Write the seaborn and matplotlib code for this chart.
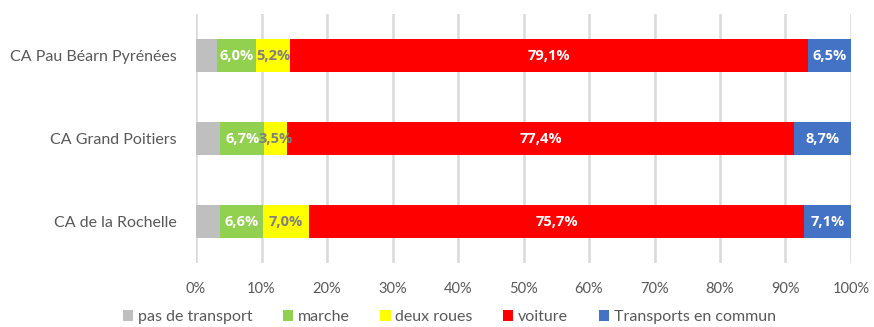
import numpy as np
import pandas as pd
import matplotlib
matplotlib.use("Agg")
import matplotlib.pyplot as plt
from matplotlib.patches import Patch
import seaborn as sns

# Modal share per agglomeration (% of trips)
territoires = ["CA Pau Béarn Pyrénées", "CA Grand Poitiers", "CA de la Rochelle"]
pas_de_transport = [3.2, 3.7, 3.6]
marche = [6.0, 6.7, 6.6]
deux_roues = [5.2, 3.5, 7.0]
voiture = [79.1, 77.4, 75.7]
transports_commun = [6.5, 8.7, 7.1]

modes = ["pas de transport", "marche", "deux roues", "voiture", "Transports en commun"]
couleurs = ["#bfbfbf", "#92d050", "#ffff00", "#ff0000", "#4472c4"]
couleurs_texte = [None, "white", "#7f7f7f", "white", "white"]
xticks = np.arange(0, 101, 10)
xtick_labels = [f"{v}%" for v in xticks]

sns.set_theme(style="white")
plt.rcParams["font.family"] = ["Lato", "DejaVu Sans"]

series = [pas_de_transport, marche, deux_roues, voiture, transports_commun]
df = pd.DataFrame({m: s for m, s in zip(modes, series)}, index=territoires)
cumul = df.cumsum(axis=1)

fig = plt.figure(figsize=(8.74, 3.27), dpi=100)
ax = fig.add_axes([196 / 874, 1 - 263 / 327, 655 / 874, 249 / 327])

# Stacked bars: draw cumulative totals from the outermost layer inward
for mode, col in reversed(list(zip(modes, couleurs))):
    sns.barplot(x=cumul[mode].values, y=territoires, orient="h", color=col,
                width=0.4, ax=ax, saturation=1, edgecolor="none", zorder=3)

# Value labels centred in each segment
for i, terr in enumerate(territoires):
    gauche = 0.0
    for mode, tc in zip(modes, couleurs_texte):
        v = df.loc[terr, mode]
        if tc is not None:
            ax.text(gauche + v / 2, i, f"{v:.1f}%".replace(".", ","), ha="center",
                    va="center", color=tc, fontsize=10.5, fontweight="bold",
                    family="Open Sans", zorder=5)
        gauche += v

ax.set_xlim(0, 100)
ax.set_ylim(2.5, -0.5)
ax.set_xticks(xticks)
ax.set_xticklabels(xtick_labels)
ax.tick_params(axis="x", colors="#595959", labelsize=10.5, length=0, pad=14)
ax.tick_params(axis="y", colors="#595959", labelsize=11.5, length=0, pad=14)
ax.xaxis.grid(True, color="#d9d9d9", linewidth=1.8, zorder=0)
ax.set_axisbelow(True)
for s in ax.spines.values():
    s.set_visible(False)
ax.set_xlabel("")
ax.set_ylabel("")

handles = [Patch(facecolor=c, edgecolor="none") for c in couleurs]
fig.legend(handles, modes, loc="lower center", bbox_to_anchor=(0.514, -0.035), ncol=5,
           frameon=False, fontsize=11.5, handlelength=0.65, handleheight=0.65,
           handletextpad=0.3, columnspacing=1.9, labelcolor="#595959")

fig.savefig("out.png", dpi=100)
